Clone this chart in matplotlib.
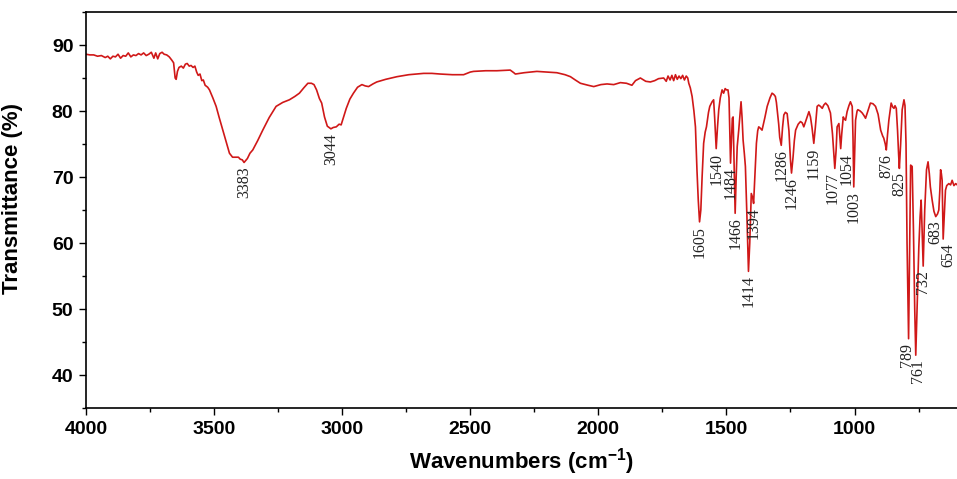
import numpy as np
import matplotlib
matplotlib.use("Agg")
import matplotlib.pyplot as plt
from matplotlib.ticker import MultipleLocator

# ---- data ----
wavenumber = [
    4000, 3985, 3970, 3955, 3940, 3925, 3915, 3905, 3895, 3885, 3875, 3865, 3855, 3845,
    3835, 3825, 3815, 3805, 3795, 3785, 3775, 3765, 3755, 3745, 3735, 3728, 3720, 3712,
    3703, 3695, 3685, 3675, 3665, 3658, 3652, 3648, 3643, 3637, 3628, 3620, 3612, 3605,
    3597, 3590, 3582, 3575, 3568, 3562, 3555, 3548, 3542, 3535, 3525, 3518, 3505, 3492,
    3480, 3466, 3452, 3440, 3428, 3414, 3405, 3398, 3390, 3383, 3370, 3360, 3349, 3330,
    3310, 3285, 3258, 3232, 3206, 3185, 3167, 3150, 3134, 3120, 3110, 3100, 3089, 3080,
    3069, 3058, 3044, 3035, 3023, 3012, 3004, 2995, 2984, 2970, 2956, 2940, 2923, 2910,
    2897, 2880, 2865, 2830, 2786, 2740, 2682, 2650, 2617, 2570, 2526, 2500, 2487, 2440,
    2396, 2344, 2330, 2324, 2290, 2240, 2200, 2162, 2130, 2109, 2090, 2070, 2040, 2018,
    1990, 1966, 1940, 1914, 1890, 1869, 1855, 1836, 1815, 1797, 1780, 1765, 1745, 1735,
    1728, 1720, 1713, 1706, 1699, 1692, 1685, 1678, 1671, 1664, 1657, 1651, 1647, 1641,
    1634, 1627, 1621, 1615, 1610, 1605, 1600, 1595, 1589, 1583, 1578, 1570, 1565, 1556,
    1550, 1546, 1540, 1535, 1530, 1524, 1517, 1511, 1505, 1500, 1494, 1490, 1484, 1480,
    1477, 1474, 1470, 1466, 1462, 1458, 1452, 1447, 1443, 1439, 1435, 1430, 1426, 1420,
    1414, 1409, 1403, 1397, 1394, 1391, 1387, 1383, 1378, 1374, 1368, 1361, 1350, 1341,
    1330, 1322, 1315, 1309, 1305, 1302, 1296, 1292, 1286, 1281, 1276, 1270, 1263, 1256,
    1250, 1246, 1240, 1235, 1230, 1220, 1211, 1204, 1198, 1190, 1178, 1172, 1166, 1159,
    1153, 1146, 1140, 1133, 1126, 1120, 1113, 1104, 1094, 1086, 1077, 1072, 1068, 1061,
    1057, 1054, 1050, 1044, 1040, 1035, 1029, 1022, 1016, 1009, 1006, 1003, 999, 996,
    990, 987, 978, 970, 963, 957, 948, 938, 928, 918, 908, 898, 890, 886,
    880, 876, 871, 866, 861, 857, 851, 846, 842, 837, 832, 828, 825, 820,
    814, 807, 803, 799, 795, 789, 785, 781, 775, 770, 765, 761, 756, 749,
    744, 740, 737, 732, 726, 719, 713, 708, 704, 697, 690, 683, 676, 671,
    667, 664, 661, 658, 654, 650, 645, 640, 632, 625, 619, 612, 605, 599,
]
transmittance = [
    88.6, 88.5, 88.5, 88.3, 88.4, 88.1, 88.3, 87.9, 88.3, 88.2, 88.6, 88.0, 88.4, 88.3,
    88.8, 88.2, 88.5, 88.4, 88.7, 88.5, 88.8, 88.4, 88.6, 88.9, 88.0, 88.8, 87.9, 88.7,
    88.9, 88.6, 88.5, 88.2, 87.7, 87.3, 85.0, 84.8, 86.0, 86.6, 86.8, 86.5, 87.1, 87.2,
    86.8, 86.9, 86.6, 86.8, 85.9, 85.4, 85.6, 84.6, 84.7, 83.9, 83.6, 83.2, 82.0, 80.7,
    79.0, 77.1, 75.2, 73.6, 73.0, 73.0, 73.0, 72.7, 72.6, 72.2, 72.8, 73.6, 74.1, 75.5,
    77.1, 79.0, 80.7, 81.3, 81.7, 82.2, 82.7, 83.5, 84.2, 84.2, 84.0, 83.2, 81.9, 81.2,
    79.1, 77.7, 77.3, 77.5, 77.6, 78.0, 77.9, 79.0, 80.4, 81.8, 82.7, 83.6, 84.0, 83.8,
    83.7, 84.1, 84.4, 84.8, 85.2, 85.5, 85.7, 85.7, 85.6, 85.5, 85.5, 85.9, 86.0, 86.1,
    86.1, 86.2, 85.8, 85.6, 85.8, 86.0, 85.9, 85.8, 85.5, 85.2, 84.7, 84.2, 83.9, 83.7,
    84.0, 84.1, 84.0, 84.3, 84.2, 83.9, 84.6, 85.0, 84.5, 84.4, 84.6, 84.9, 85.0, 84.5,
    85.3, 84.7, 85.4, 84.6, 85.5, 84.8, 85.3, 84.9, 85.4, 84.7, 85.3, 85.0, 84.2, 83.5,
    82.2, 80.0, 77.6, 71.0, 66.5, 63.2, 65.0, 70.0, 75.1, 76.8, 77.6, 79.8, 80.7, 81.4,
    81.7, 79.0, 74.3, 77.5, 80.2, 82.0, 83.2, 82.7, 83.4, 83.2, 83.2, 82.0, 72.1, 76.0,
    78.9, 79.1, 72.0, 64.5, 70.0, 74.6, 77.1, 79.5, 81.4, 79.0, 75.6, 73.5, 71.6, 64.0,
    55.7, 60.0, 67.5, 66.8, 66.0, 68.5, 72.0, 75.1, 77.0, 77.6, 77.4, 77.1, 79.0, 80.7,
    82.0, 82.7, 82.5, 82.2, 81.3, 80.2, 78.0, 76.0, 74.8, 77.5, 79.4, 79.8, 79.6, 77.0,
    72.5, 70.6, 73.0, 75.5, 77.1, 78.0, 78.4, 78.2, 77.6, 78.5, 79.9, 79.1, 77.5, 75.1,
    77.5, 80.7, 80.9, 80.7, 80.4, 80.9, 81.2, 80.8, 79.7, 76.5, 71.3, 74.0, 77.6, 78.1,
    76.0, 74.3, 76.5, 79.1, 78.8, 78.6, 79.9, 80.8, 81.4, 80.7, 76.0, 68.5, 74.0, 78.6,
    80.0, 80.2, 80.0, 79.7, 79.3, 78.9, 80.0, 81.2, 81.1, 80.7, 79.5, 77.1, 76.2, 75.9,
    75.0, 74.1, 76.5, 78.6, 80.0, 81.2, 80.6, 80.4, 80.8, 80.4, 77.0, 73.5, 71.3, 75.0,
    80.2, 81.7, 80.8, 75.0, 60.0, 45.5, 58.0, 71.8, 71.6, 62.0, 50.0, 43.0, 50.0, 59.4,
    64.0, 66.5, 63.0, 56.5, 65.0, 71.1, 72.3, 70.5, 68.5, 66.5, 64.8, 64.0, 64.4, 65.0,
    68.0, 71.1, 70.5, 69.5, 60.6, 64.0, 68.0, 68.7, 69.0, 68.8, 69.5, 68.7, 69.0, 68.8,
]
peak_labels = [3383, 3044, 1605, 1540, 1484, 1466, 1414, 1394, 1286, 1246, 1159,
               1077, 1054, 1003, 876, 825, 789, 761, 732, 683, 654]

x_ticks = [4000, 3500, 3000, 2500, 2000, 1500, 1000]
y_ticks = [40, 50, 60, 70, 80, 90]

# ---- style ----
plt.rcParams['font.family'] = ['Liberation Sans', 'DejaVu Sans']
plt.rcParams['mathtext.fontset'] = 'custom'
plt.rcParams['mathtext.rm'] = 'Liberation Sans:bold'
plt.rcParams['mathtext.default'] = 'rm'

fig = plt.figure(figsize=(9.57, 4.79), dpi=100)
ax = fig.add_axes([86 / 957, 1 - 408 / 479, 1 - 86 / 957, (408 - 12) / 479])

w = np.array(wavenumber, dtype=float)
t = np.array(transmittance, dtype=float)
ax.plot(w, t, color='#d01818', lw=1.2)

ax.set_xlim(4000, 600)
ax.set_ylim(35, 95)
ax.set_xticks(x_ticks)
ax.set_yticks(y_ticks)
ax.xaxis.set_minor_locator(MultipleLocator(250))
ax.yaxis.set_minor_locator(MultipleLocator(5))
ax.tick_params(axis='both', which='major', direction='out', length=5, width=1.0,
               labelsize=14, pad=4)
ax.tick_params(axis='both', which='minor', direction='out', length=3, width=1.0)
for lab in ax.get_xticklabels() + ax.get_yticklabels():
    lab.set_fontweight('bold')
for s in ['left', 'bottom', 'top']:
    ax.spines[s].set_linewidth(1.2)
ax.spines['right'].set_visible(False)

ax.set_xlabel('Wavenumbers (cm$^{-1}$)', fontsize=16, fontweight='bold', labelpad=6)
ax.set_ylabel('Transmittance (%)', fontsize=16, fontweight='bold')
ax.yaxis.set_label_coords(-0.072, 0.53)

# small horizontal nudges (in pixels) for crowded labels, as in the reference
nudge = {1077: -2, 1054: 6, 654: 5, 761: 2, 789: -2}

order = np.argsort(w)
for p in peak_labels:
    yv = np.interp(p, w[order], t[order])
    ax.annotate(str(p), xy=(p, yv - 0.6), xytext=(nudge.get(p, 0) * 0.72, 0),
                textcoords='offset points', rotation=90, ha='center', va='top',
                fontsize=11.5, family=['Liberation Serif'], color='#222222')

fig.savefig('out.png', dpi=100)
